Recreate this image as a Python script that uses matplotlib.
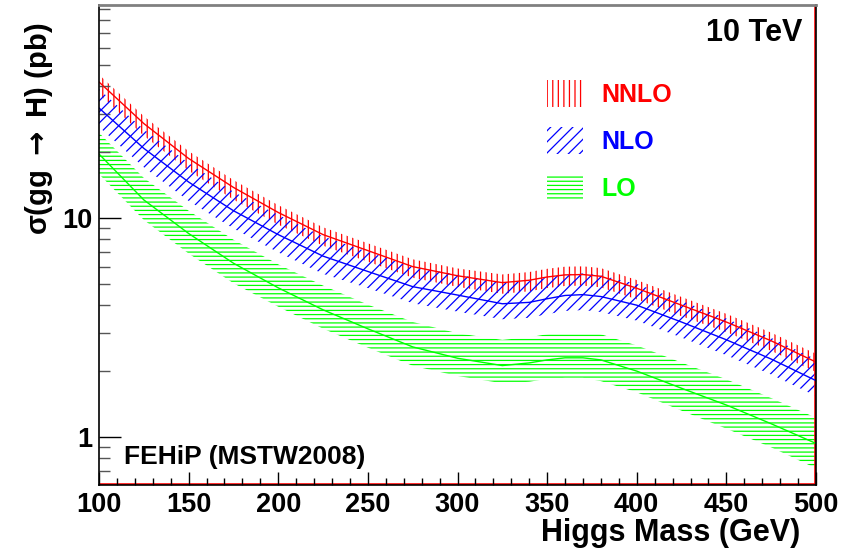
import numpy as np
import matplotlib
matplotlib.use("Agg")
import matplotlib.pyplot as plt
from matplotlib.ticker import MultipleLocator, LogLocator, NullFormatter, FixedFormatter, FixedLocator

plt.rcParams['font.family'] = ['Liberation Sans', 'DejaVu Sans']
plt.rcParams['font.weight'] = 'bold'
plt.rcParams['mathtext.default'] = 'bf'
plt.rcParams['hatch.linewidth'] = 0.9

# Higgs mass (GeV)
mass = [100, 125, 150, 175, 200, 225, 250, 275, 300, 325,
        340, 350, 360, 370, 380, 400, 425, 450, 475, 500]

# central cross sections (pb)
nnlo = [41.8, 27.0, 18.7, 13.8, 10.6, 8.4, 7.1, 6.0, 5.45, 5.07,
        5.2, 5.38, 5.5, 5.52, 5.42, 4.78, 4.0, 3.35, 2.75, 2.2]
nlo = [31.8, 20.8, 14.6, 10.8, 8.4, 6.7, 5.7, 4.86, 4.45, 4.06,
       4.12, 4.28, 4.43, 4.47, 4.38, 4.0, 3.35, 2.78, 2.27, 1.81]
lo = [19.6, 12.1, 8.5, 6.22, 4.8, 3.81, 3.12, 2.58, 2.29, 2.12,
      2.18, 2.25, 2.3, 2.3, 2.25, 2.0, 1.67, 1.4, 1.15, 0.935]

# scale uncertainty (fraction), up / down
nnlo_up = [0.08, 0.08, 0.08, 0.08, 0.08, 0.08, 0.08, 0.08, 0.08, 0.09,
           0.09, 0.09, 0.09, 0.09, 0.09, 0.09, 0.09, 0.09, 0.09, 0.09]
nnlo_dn = [0.12, 0.12, 0.12, 0.12, 0.12, 0.11, 0.11, 0.11, 0.11, 0.11,
           0.11, 0.11, 0.11, 0.11, 0.11, 0.11, 0.11, 0.10, 0.10, 0.10]
nlo_up = [0.22, 0.22, 0.22, 0.22, 0.23, 0.23, 0.23, 0.23, 0.24, 0.25,
          0.25, 0.25, 0.25, 0.25, 0.25, 0.25, 0.25, 0.25, 0.25, 0.25]
nlo_dn = [0.18, 0.18, 0.18, 0.17, 0.17, 0.17, 0.16, 0.16, 0.16, 0.15,
          0.15, 0.15, 0.15, 0.15, 0.15, 0.15, 0.15, 0.15, 0.15, 0.15]
lo_up = [0.25, 0.26, 0.27, 0.28, 0.28, 0.29, 0.29, 0.30, 0.30, 0.31,
         0.31, 0.31, 0.31, 0.31, 0.31, 0.31, 0.31, 0.31, 0.31, 0.31]
lo_dn = [0.19, 0.19, 0.19, 0.19, 0.18, 0.18, 0.18, 0.18, 0.17, 0.17,
         0.18, 0.18, 0.19, 0.19, 0.20, 0.20, 0.21, 0.22, 0.22, 0.23]

x_ticks = [100, 150, 200, 250, 300, 350, 400, 450, 500]
y_ticks = [1, 10]
y_ticklabels = ["1", "10"]

curves = [
    ("NNLO", nnlo, nnlo_up, nnlo_dn, "red", "|||"),
    ("NLO", nlo, nlo_up, nlo_dn, "blue", "///"),
    ("LO", lo, lo_up, lo_dn, "lime", "----"),
]

fig = plt.figure(figsize=(8.5, 5.52), dpi=100)
ax = fig.add_axes([99 / 850, 1 - 485 / 552, 717 / 850, 480 / 552])

m = np.array(mass)
handles = []
for name, c, up, dn, col, hatch in curves:
    c = np.array(c)
    hi = c * (1 + np.array(up))
    lw = c * (1 - np.array(dn))
    h = ax.fill_between(m, lw, hi, facecolor="none", edgecolor=col,
                        hatch=hatch, linewidth=0, label=name)
    ax.plot(m, c, color=col, lw=1.0)
    handles.append(h)

ax.set_yscale("log")
ax.set_xlim(100, 500)
ax.set_ylim(0.604, 93.9)

ax.xaxis.set_major_locator(FixedLocator(x_ticks))
ax.xaxis.set_minor_locator(MultipleLocator(10))
ax.yaxis.set_major_locator(FixedLocator(y_ticks))
ax.yaxis.set_major_formatter(FixedFormatter(y_ticklabels))
ax.yaxis.set_minor_locator(LogLocator(base=10, subs=np.arange(2, 10)))
ax.yaxis.set_minor_formatter(NullFormatter())

ax.tick_params(axis="x", which="major", direction="in", length=9.5, width=1.0,
               labelsize=19.5, pad=5)
ax.tick_params(axis="x", which="minor", direction="in", length=5, width=1.0)
ax.tick_params(axis="y", which="major", direction="in", length=16, width=1.0,
               labelsize=19.5, pad=5)
ax.tick_params(axis="y", which="minor", direction="in", length=8, width=1.0,
               color="#555555")
ax.tick_params(top=False, right=False, which="both")
for lab in ax.get_xticklabels() + ax.get_yticklabels():
    lab.set_fontweight("bold")

for s in ["left", "bottom", "right"]:
    ax.spines[s].set_color("black")
    ax.spines[s].set_linewidth(1.2)
ax.spines["top"].set_color("#808080")
ax.spines["top"].set_linewidth(2.0)

# red frame lines of the graph
ax.axhline(ax.get_ylim()[0], color="red", lw=2.6, zorder=1)
ax.axvline(ax.get_xlim()[1], color="red", lw=2.6, zorder=1)

ax.set_xlabel("Higgs Mass (GeV)", fontsize=22, fontweight="bold",
              ha="right", va="center")
ax.xaxis.set_label_coords((800 - 99) / 717, -(533 - 485) / 480)
ax.set_ylabel("\u03c3(gg $\\rightarrow$ H) (pb)", fontsize=21,
              fontweight="bold", va="center")
ax.yaxis.set_label_coords((39 - 99) / 717, 1 - (129 - 5) / 480)

ax.text((802 - 99) / 717, 1 - (33 - 5) / 480, "10 TeV", transform=ax.transAxes,
        ha="right", va="center", fontsize=22, fontweight="bold")
ax.text((124 - 99) / 717, 1 - (457 - 5) / 480, "FEHiP (MSTW2008)",
        transform=ax.transAxes, ha="left", va="center", fontsize=19,
        fontweight="bold")

leg = ax.legend(handles=handles, loc="upper left",
                bbox_to_anchor=((547 - 99) / 717, 1 - (80 - 5) / 480),
                frameon=False, fontsize=18, handlelength=1.44,
                handleheight=1.28, handletextpad=0.72, labelspacing=0.8,
                borderpad=0, borderaxespad=0,
                labelcolor=["red", "blue", "lime"])
for t in leg.get_texts():
    t.set_fontweight("bold")

fig.savefig("out.png", dpi=100)
